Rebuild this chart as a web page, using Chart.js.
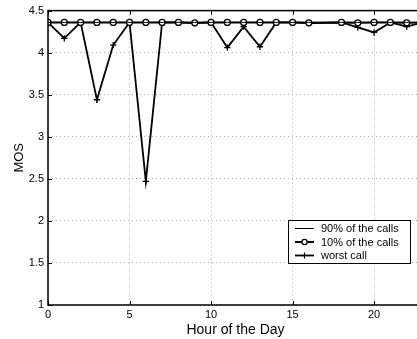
<!DOCTYPE html>
<html>
<head>
<meta charset="utf-8">
<script src="https://cdn.jsdelivr.net/npm/chart.js@4"></script>
<style>
  html, body { margin: 0; padding: 0; background: #fff; overflow: hidden; }
  #wrap { position: relative; width: 430px; height: 339px; }
</style>
</head>
<body>
<div id="wrap"><canvas id="c"></canvas></div>
<script>
/* MOS per hour of the day */
const hours = [0,1,2,3,4,5,6,7,8,9,10,11,12,13,14,15,16,17,18,19,20,21,22,23];
const mos90 = [4.36,4.36,4.36,4.36,4.36,4.36,4.36,4.36,4.36,4.36,4.36,4.36,4.36,4.36,4.36,4.36,4.36,4.36,4.36,4.36,4.36,4.36,4.36,4.36];
const mos10 = [4.36,4.36,4.36,4.36,4.36,4.36,4.36,4.36,4.36,4.355,4.36,4.36,4.36,4.36,4.36,4.36,4.355,null,4.36,4.355,4.36,4.36,4.355,4.36];
const worst = [4.36,4.17,4.36,3.44,4.09,4.36,2.47,4.36,4.36,4.35,4.36,4.06,4.31,4.07,4.36,4.36,4.35,null,4.36,4.30,4.24,4.36,4.31,4.36];
const yTicks = [1,1.5,2,2.5,3,3.5,4,4.5];
const xTicks = [0,5,10,15,20];
const labels = ['90% of the calls', '10% of the calls', 'worst call'];

const FONT = 'Liberation Sans, Arial, sans-serif';
const pts = arr => hours.map((h, i) => ({ x: h, y: arr[i] }));

/* frame + in-plot legend, matlab style */
const framePlugin = {
  id: 'frame',
  afterDatasetsDraw(chart) {
    const { ctx, chartArea: a } = chart;
    ctx.save();
    ctx.strokeStyle = '#000';
    ctx.lineWidth = 1.5;
    ctx.strokeRect(a.left, a.top, a.right - a.left, a.bottom - a.top);

    // small inward tick marks on top and bottom edges
    ctx.lineWidth = 1;
    const xs = chart.scales.x, ys = chart.scales.y;
    xTicks.forEach(v => {
      const px = Math.round(xs.getPixelForValue(v)) + 0.5;
      ctx.beginPath();
      ctx.moveTo(px, a.top); ctx.lineTo(px, a.top + 4);
      ctx.moveTo(px, a.bottom); ctx.lineTo(px, a.bottom - 4);
      ctx.stroke();
    });
    yTicks.forEach(v => {
      const py = Math.round(ys.getPixelForValue(v)) + 0.5;
      ctx.beginPath(); ctx.moveTo(a.left, py); ctx.lineTo(a.left + 4, py); ctx.stroke();
    });

    // legend box
    const bx = 288.5, by = 220.5, bw = 122, bh = 43;
    ctx.fillStyle = '#fff';
    ctx.fillRect(bx, by, bw, bh);
    ctx.lineWidth = 1;
    ctx.strokeRect(bx, by, bw, bh);
    ctx.font = '11px ' + FONT;
    ctx.textBaseline = 'middle';
    chart.data.datasets.forEach((ds, i) => {
      const y = by + 8 + i * 13.5;
      ctx.strokeStyle = '#000';
      ctx.lineWidth = ds.borderWidth;
      ctx.beginPath(); ctx.moveTo(295, y); ctx.lineTo(314, y); ctx.stroke();
      if (ds.pointRadius) {
        ctx.lineWidth = 1.2;
        ctx.beginPath();
        if (ds.pointStyle === 'circle') {
          ctx.fillStyle = '#fff';
          ctx.arc(304.5, y, 2.6, 0, Math.PI * 2); ctx.fill(); ctx.stroke();
        } else {
          ctx.moveTo(304.5, y - 3); ctx.lineTo(304.5, y + 3); ctx.stroke();
        }
      }
      ctx.fillStyle = '#000';
      ctx.fillText(ds.label, 321, y + 0.5);
    });
    ctx.restore();
  }
};

new Chart(document.getElementById('c'), {
  type: 'line',
  data: {
    datasets: [
      { label: labels[0], data: pts(mos90), borderColor: '#000', borderWidth: 1, pointRadius: 0, spanGaps: true },
      { label: labels[1], data: pts(mos10), borderColor: '#000', backgroundColor: '#fff', borderWidth: 2,
        pointStyle: 'circle', pointRadius: 3, pointBorderWidth: 1.3, spanGaps: true },
      { label: labels[2], data: pts(worst), borderColor: '#000', backgroundColor: '#000', borderWidth: 1.8,
        pointStyle: 'cross', pointRadius: 3.2, pointBorderWidth: 1.3, spanGaps: true },
    ]
  },
  options: {
    responsive: true,
    maintainAspectRatio: false,
    animation: false,
    layout: { padding: { top: 10, right: 7, left: 0, bottom: 0 } },
    plugins: { legend: { display: false }, tooltip: { enabled: false } },
    scales: {
      x: {
        type: 'linear', min: 0, max: 23,
        afterBuildTicks: s => { s.ticks = xTicks.map(v => ({ value: v })); },
        afterFit: s => { s.height = 34; },
        ticks: { color: '#000', font: { family: FONT, size: 11 }, padding: 3, maxRotation: 0 },
        grid: { color: '#aaa', drawTicks: false },
        border: { display: false, dash: [1, 3] },
        title: { display: true, text: 'Hour of the Day', color: '#000', font: { family: FONT, size: 14 }, padding: { top: 0, bottom: 0 } }
      },
      y: {
        min: 1, max: 4.5,
        afterBuildTicks: s => { s.ticks = yTicks.map(v => ({ value: v })); },
        afterFit: s => { s.width = 48; },
        ticks: { color: '#000', font: { family: FONT, size: 11 }, padding: 4, callback: v => String(v) },
        grid: { color: '#aaa', drawTicks: false },
        border: { display: false, dash: [1, 3] },
        title: { display: true, text: 'MOS', color: '#000', font: { family: FONT, size: 13 }, padding: { top: 12, bottom: 0 } }
      }
    }
  },
  plugins: [framePlugin]
});
</script>
</body>
</html>
